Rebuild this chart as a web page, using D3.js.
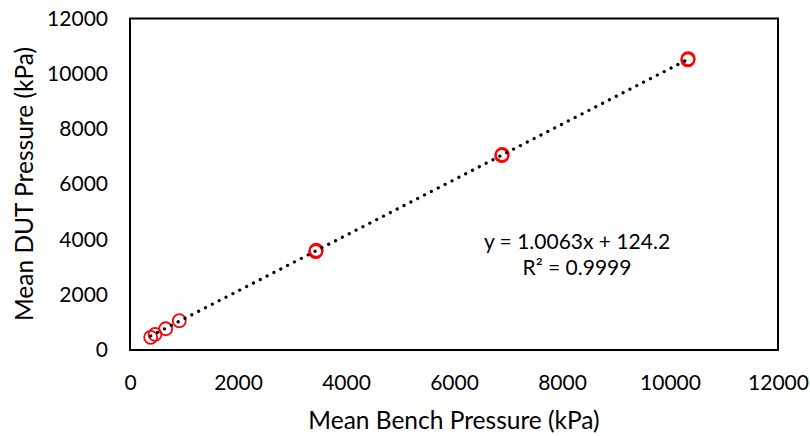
<!DOCTYPE html>
<html><head><meta charset="utf-8">
<script src="https://cdn.jsdelivr.net/npm/d3@7"></script>
<style>body{margin:0;background:#fff}svg{display:block}text{font-family:Lato,"Open Sans",sans-serif;fill:#000}</style>
</head><body><svg id="c" width="810" height="436"></svg>
<script>
const benchX = [383, 463, 661, 913, 3440, 3444, 3448, 6885, 6889, 6893, 10330, 10333, 10336];
const dutY   = [460, 565, 770, 1060, 3560, 3590, 3610, 7035, 7057, 7080, 10500, 10525, 10550];
const xTicks = [0, 2000, 4000, 6000, 8000, 10000, 12000];
const yTicks = [0, 2000, 4000, 6000, 8000, 10000, 12000];
const slope = 1.0063, intercept = 124.2;
const eqText = "y = 1.0063x + 124.2";
const r2Text = "R² = 0.9999";
const xTitle = "Mean Bench Pressure (kPa)";
const yTitle = "Mean DUT Pressure (kPa)";

const svg = d3.select("#c");
const L = 130, R = 778, T = 18.5, B = 350;
const x = d3.scaleLinear().domain([0, 12000]).range([L, R]);
const y = d3.scaleLinear().domain([0, 12000]).range([B, T]);

svg.append("rect").attr("x", L).attr("y", T).attr("width", R - L).attr("height", B - T)
  .attr("fill", "none").attr("stroke", "#000").attr("stroke-width", 2);

const xa = svg.append("g").attr("transform", `translate(0,${B})`)
  .call(d3.axisBottom(x).tickValues(xTicks).tickSize(0).tickPadding(25).tickFormat(d3.format("d")));
xa.select(".domain").remove();
xa.selectAll("text").style("font-size", "21px").style("font-family", "Lato");

const ya = svg.append("g").attr("transform", `translate(${L},0)`)
  .call(d3.axisLeft(y).tickValues(yTicks).tickSize(0).tickPadding(22).tickFormat(d3.format("d")));
ya.select(".domain").remove();
ya.selectAll("text").style("font-size", "21px").style("font-family", "Lato");

// circles
svg.append("g").selectAll("circle").data(benchX.map((v, i) => [v, dutY[i]])).enter()
  .append("circle").attr("cx", d => x(d[0])).attr("cy", d => y(d[1])).attr("r", 6.5)
  .attr("fill", "none").attr("stroke", "#ff0000").attr("stroke-width", 1.8);

// trend line
const x0 = d3.min(benchX), x1 = d3.max(benchX);
svg.append("line").attr("x1", x(x0)).attr("y1", y(slope * x0 + intercept))
  .attr("x2", x(x1)).attr("y2", y(slope * x1 + intercept))
  .attr("stroke", "#000").attr("stroke-width", 3.2).attr("stroke-linecap", "round")
  .attr("stroke-dasharray", "0.1 7.6");

svg.append("text").attr("x", 577).attr("y", 249).attr("text-anchor", "middle")
  .style("font-size", "21px").text(eqText);
svg.append("text").attr("x", 577).attr("y", 275).attr("text-anchor", "middle")
  .style("font-size", "21px").text(r2Text);

svg.append("text").attr("x", 454).attr("y", 429).attr("text-anchor", "middle")
  .style("font-size", "24.5px").text(xTitle);
svg.append("text").attr("transform", "translate(33,184) rotate(-90)").attr("text-anchor", "middle")
  .style("font-size", "24.5px").text(yTitle);
</script></body></html>
